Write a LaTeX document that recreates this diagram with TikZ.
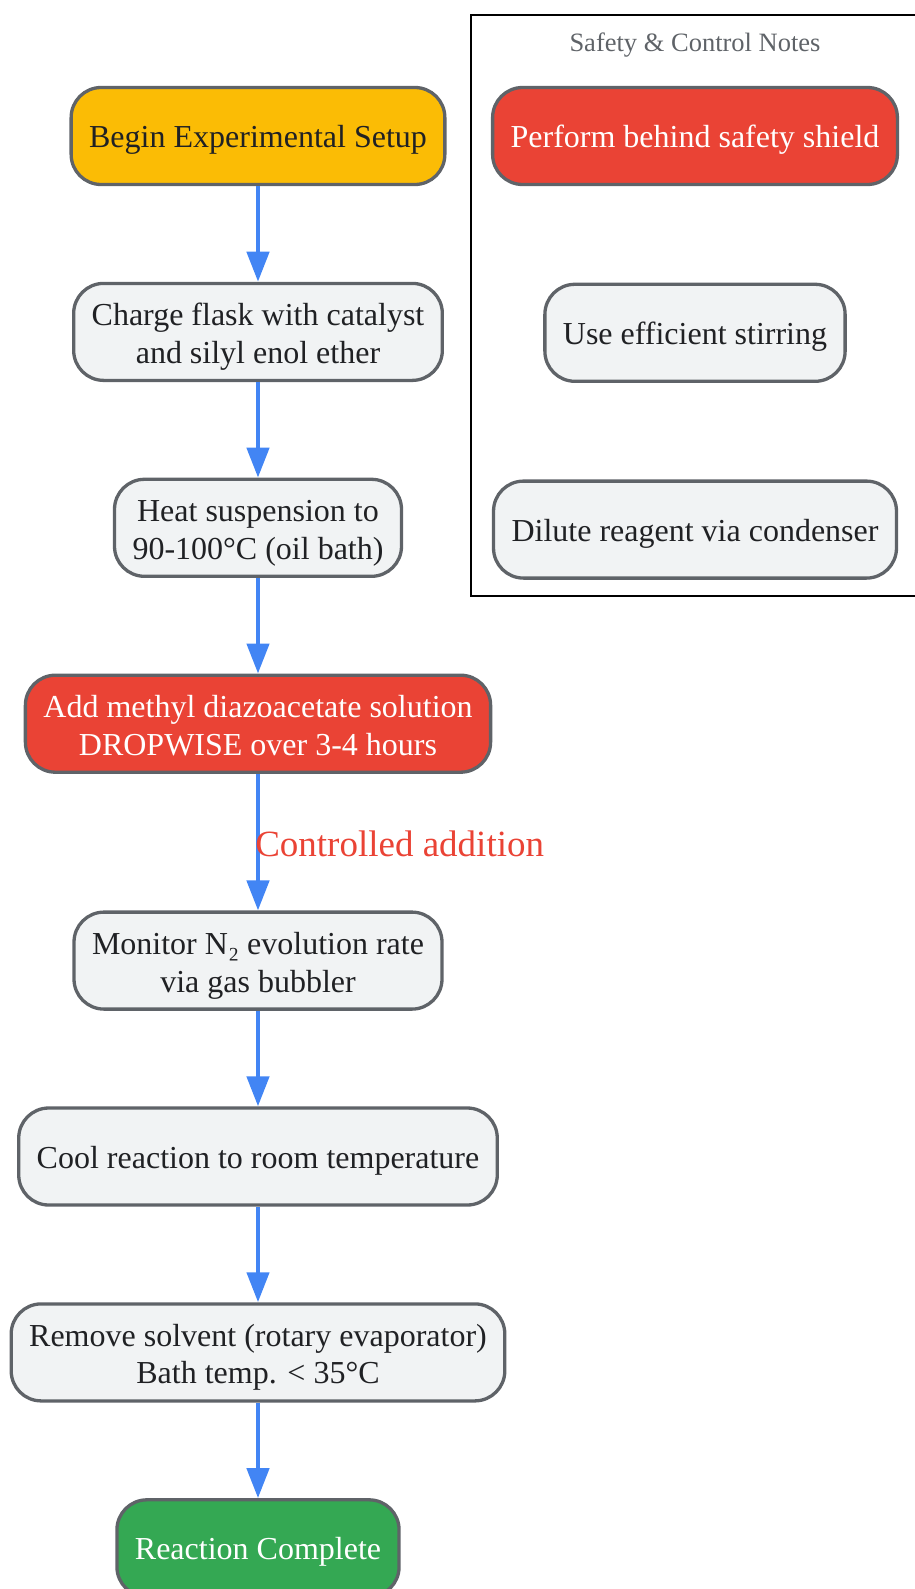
\documentclass[tikz,border=0pt]{standalone}
\usepackage{fontspec}
\setmainfont{Liberation Serif}
\usetikzlibrary{shapes.geometric, arrows.meta}
\usetikzlibrary{positioning}
\definecolor{gyellow}{HTML}{FBBC05}
\definecolor{gred}{HTML}{EA4335}
\definecolor{ggreen}{HTML}{34A853}
\definecolor{gfill}{HTML}{F1F3F4}
\definecolor{gline}{HTML}{5F6368}
\definecolor{gblue}{HTML}{4285F4}
\definecolor{gtext}{HTML}{202124}
\tikzstyle{base} = [rectangle, rounded corners=30pt, inner xsep=18pt, inner ysep=4pt, minimum height=97pt, align=center, line width=3.3pt, draw=gline, font=\fontsize{32}{37.5}\selectfont, execute at begin node={\rule{0pt}{30pt}}]
\tikzstyle{twoline} = [text height=70pt, text depth=7pt]
\tikzstyle{stepnode} = [base, fill=gfill, text=gtext]
\tikzstyle{start} = [base, fill=gyellow, text=gtext]
\tikzstyle{alert} = [base, fill=gred, text=white]
\tikzstyle{finish} = [base, fill=ggreen, text=white]
\tikzstyle{arrow} = [line width=4.5pt, draw=gblue, -{Triangle[width=22pt,length=30pt]}]

\begin{document}
\begin{tikzpicture}[x=1pt, y=-1pt]
\useasboundingbox (0,0) rectangle (914,1589);

\node (in0) [start] at (258,136) {Begin Experimental Setup};
\node (in1) [stepnode, twoline, below=95.6pt of in0] {Charge flask with catalyst\\and silyl enol ether};
\node (in2) [stepnode, twoline, below=95.6pt of in1] {Heat suspension to\\90-100°C (oil bath)};
\node (in3) [alert, twoline, below=95.6pt of in2] {Add methyl diazoacetate solution\\DROPWISE over 3-4 hours};
\node (in4) [stepnode, twoline, below=136.6pt of in3] {Monitor N₂ evolution rate\\via gas bubbler};
\node (in5) [stepnode, below=95.6pt of in4] {Cool reaction to room temperature};
\node (in6) [stepnode, twoline, below=95.6pt of in5] {Remove solvent (rotary evaporator)\\Bath temp. < 35°C};
\node (in7) [finish, below=95.6pt of in6] {Reaction Complete};

\draw [arrow] (in0) -- (in1);
\draw [arrow] (in1) -- (in2);
\draw [arrow] (in2) -- (in3);
\draw [arrow] (in3) -- node[anchor=west, inner sep=0pt, xshift=-5pt, yshift=-2pt, text=gred, font=\fontsize{37}{40}\selectfont] {Controlled addition} (in4);
\draw [arrow] (in4) -- (in5);
\draw [arrow] (in5) -- (in6);
\draw [arrow] (in6) -- (in7);

% safety notes
\draw [draw=black, line width=2.2pt] (471,15) rectangle (920,596);
\node (notes) [text=gline, font=\fontsize{26.5}{30}\selectfont] at (695,45) {Safety \& Control Notes};
\node (sn0) [alert] at (695,136) {Perform behind safety shield};
\node (sn1) [stepnode, below=96.5pt of sn0] {Use efficient stirring};
\node (sn2) [stepnode, below=96.5pt of sn1] {Dilute reagent via condenser};

\end{tikzpicture}
\end{document}
